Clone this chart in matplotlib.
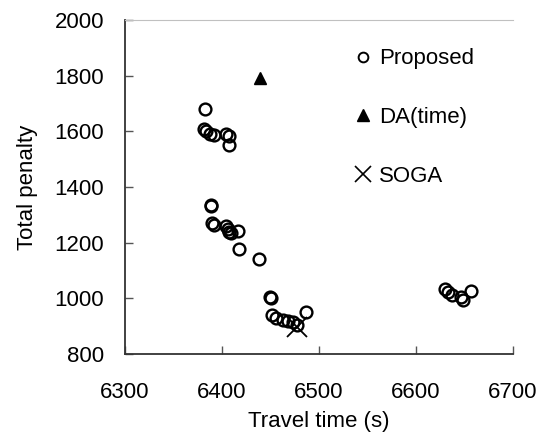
import matplotlib.pyplot as plt
from matplotlib.lines import Line2D

plt.rcParams['font.family'] = ['Liberation Sans', 'DejaVu Sans']

# Proposed solutions (travel time, total penalty)
proposed_time = [6382, 6381, 6384, 6388, 6392, 6404, 6407, 6407,
                 6389, 6389, 6390, 6392, 6404, 6406, 6407, 6409, 6416,
                 6418, 6438, 6450, 6451, 6452, 6456, 6463, 6468, 6473, 6477, 6487,
                 6630, 6633, 6637, 6646, 6648, 6657]
proposed_penalty = [1680, 1610, 1600, 1592, 1587, 1592, 1582, 1551,
                    1337, 1333, 1270, 1264, 1260, 1250, 1240, 1236, 1243,
                    1177, 1140, 1004, 1002, 940, 928, 922, 920, 914, 905, 950,
                    1035, 1024, 1012, 1003, 995, 1028]

da_time = [6439]
da_penalty = [1790]

soga_time = [6477]
soga_penalty = [896]

fig = plt.figure(figsize=(5.42, 4.38), dpi=100)
ax = fig.add_axes([0.2306, 0.1918, 0.7159, 0.7625])

ax.plot(proposed_time, proposed_penalty, 'o', ls='none', ms=8.5,
        mfc='none', mec='black', mew=1.7)
ax.plot(da_time, da_penalty, '^', ls='none', ms=9, color='black')
ax.plot(soga_time, soga_penalty, 'x', ls='none', ms=15, color='black', mew=1.3)

ax.set_xlim(6300, 6700)
ax.set_ylim(800, 2000)
ax.set_xticks([6300, 6400, 6500, 6600, 6700])
ax.set_yticks(range(800, 2001, 200))

ax.spines['right'].set_visible(False)
ax.spines['top'].set_color('#c0c0c0')
ax.spines['left'].set_linewidth(1.3)
ax.spines['bottom'].set_linewidth(1.3)
ax.spines['left'].set_color('#333333')
ax.spines['bottom'].set_color('#333333')
ax.tick_params(direction='in', length=6, width=1, color='#555555',
               labelsize=16)
ax.tick_params(axis='y', pad=15)
ax.tick_params(axis='x', pad=20)

ax.set_xlabel('Travel time (s)', fontsize=16, labelpad=6)
ax.set_ylabel('Total penalty', fontsize=16, labelpad=12)

handles = [
    Line2D([], [], marker='o', ls='none', ms=7, mfc='none', mec='black', mew=1.4),
    Line2D([], [], marker='^', ls='none', ms=8, color='black'),
    Line2D([], [], marker='x', ls='none', ms=12, color='black', mew=1.2),
]
ax.legend(handles, ['Proposed', 'DA(time)', 'SOGA'], loc='upper left',
          bbox_to_anchor=(0.54, 0.975), frameon=False, fontsize=16,
          labelspacing=1.7, handlelength=0.8, handletextpad=0.3)

plt.savefig('out.png', dpi=100)
